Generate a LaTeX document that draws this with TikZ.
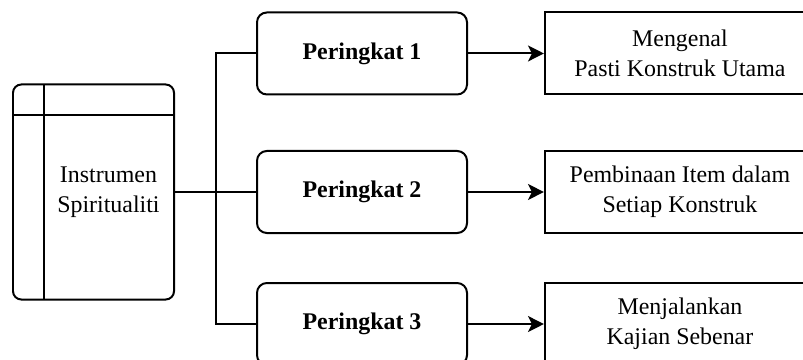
\documentclass[tikz,border=0pt]{standalone}
\usepackage{fontspec}
\setmainfont{Liberation Serif}
\usetikzlibrary{arrows.meta}

\tikzset{
	levelbox/.style={draw, line width=1.5pt, rounded corners=0.26cm, minimum width=5.556cm, minimum height=2.17cm, font=\bfseries},
	outbox/.style={draw, line width=1.5pt, minimum width=7.144cm, minimum height=2.17cm, align=center},
	link/.style={line width=1.5pt, -{Stealth[length=12pt,width=12pt,inset=3pt]}}
}

\begin{document}
\begin{tikzpicture}
	\fontsize{18}{22.5}\selectfont
	\clip (0,0) rectangle (21.246,9.525);
	\node[draw, line width=1.5pt, rounded corners=0.22cm, outer sep=0pt, minimum width=4.26cm, minimum height=5.689cm] (inst) at (2.474,4.445) {};
	\draw[line width=1.5pt] ([xshift=0.82cm]inst.north west) -- ([xshift=0.82cm]inst.south west);
	\draw[line width=1.5pt] ([yshift=-0.82cm]inst.north west) -- ([yshift=-0.82cm]inst.north east);
	\node[align=center] (instlbl) at (2.87,4.445) {Instrumen\\Spiritualiti};
	\coordinate (split) at (5.715,4.445);
	\foreach \y/\n/\txt in {
		8.110/1/Mengenal\\Pasti Konstruk Utama,
		4.445/2/Pembinaan Item dalam\\Setiap Konstruk,
		0.952/3/Menjalankan\\Kajian Sebenar
	}
	{
		\node[levelbox] (lvl\n) at (9.578,\y) {Peringkat \n};
		\node[outbox] (out\n) at (17.99,\y) {\txt};
		\draw[link] (lvl\n) -- (out\n);
		\draw[line width=1.5pt] (split) |- (lvl\n);
	}
	\draw[line width=1.5pt] (inst) -- (split);
\end{tikzpicture}
\end{document}
